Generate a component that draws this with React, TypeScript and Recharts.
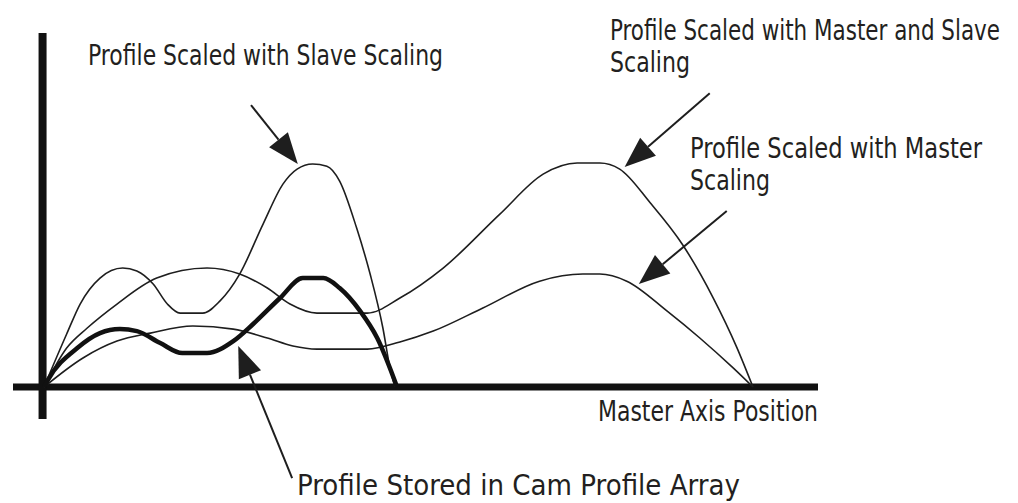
import { LineChart, Line, XAxis, YAxis, ReferenceLine } from "recharts";

// master axis position (x) and slave position (y)
const camX = [0, 0.06, 0.47, 0.79, 1.07, 1.31, 1.64, 1.95, 2.3, 2.67, 2.95, 3.33, 3.65, 3.94, 4.17, 4.46, 4.7, 4.98];
const camY = [0, 0.35, 1.76, 2.43, 2.61, 2.52, 1.98, 1.53, 1.53, 2.07, 2.84, 4.01, 4.91, 4.91, 4.46, 3.42, 2.21, 0];

const slaveX = [0, 0.32, 0.51, 0.79, 1.11, 1.31, 1.54, 1.74, 1.92, 2.24, 2.48, 2.76, 3.09, 3.37, 3.57, 3.79, 3.99, 4.17, 4.41, 4.6, 4.78, 4.88, 4.95];
const slaveY = [0, 2.39, 3.74, 4.91, 5.36, 5.23, 4.64, 3.74, 3.33, 3.33, 3.87, 5.09, 7.34, 9.14, 9.82, 10.05, 9.95, 9.28, 7.16, 5.09, 2.66, 0.86, 0];

const masterX = [0, 0.55, 1.03, 1.5, 2.1, 2.67, 3.15, 3.51, 3.85, 4.56, 5.02, 5.49, 6.19, 6.99, 7.6, 7.84, 8.22, 8.79, 9.25, 9.72, 10];
const masterY = [0, 1.31, 2.07, 2.43, 2.75, 2.61, 2.21, 1.85, 1.71, 1.71, 2.03, 2.52, 3.56, 4.77, 5.09, 5.09, 4.77, 3.42, 2.21, 0.86, 0];

const bothX = [0, 0.32, 0.61, 1.03, 1.59, 2.3, 2.76, 3.15, 3.47, 3.85, 4.56, 5.02, 5.63, 6.43, 7.04, 7.52, 7.84, 8.12, 8.55, 9.01, 9.44, 9.77, 10];
const bothY = [0, 1.76, 2.66, 3.74, 4.91, 5.36, 5.09, 4.46, 3.74, 3.33, 3.33, 4.01, 5.36, 7.79, 9.59, 10.09, 10.09, 9.82, 8.3, 6.4, 4.01, 1.8, 0];

// annotation arrows: [from, to] in chart units
const arrows = [
  [{ x: 2.92, y: 12.7 }, { x: 3.58, y: 10.05 }],
  [{ x: 9.39, y: 13.24 }, { x: 8.19, y: 9.91 }],
  [{ x: 9.63, y: 7.93 }, { x: 8.39, y: 4.64 }],
  [{ x: 3.5, y: -4.1 }, { x: 2.74, y: 1.85 }],
];

const labels = [
  { text: "Profile Scaled with Slave Scaling", x: 88, y: 65, w: 355 },
  { text: "Profile Scaled with Master and Slave", x: 610, y: 40, w: 390 },
  { text: "Scaling", x: 610, y: 72, w: 80 },
  { text: "Profile Scaled with Master", x: 690, y: 158, w: 292 },
  { text: "Scaling", x: 690, y: 190, w: 80 },
  { text: "Master Axis Position", x: 598, y: 421, w: 220 },
  { text: "Profile Stored in Cam Profile Array", x: 297, y: 495, w: 443 },
];

const zip = (xs: number[], ys: number[]) => xs.map((x, i) => ({ x, y: ys[i] }));

const INK = "#1e1e1e";

function Arrow(props: any) {
  const { x1, y1, x2, y2 } = props;
  const ang = Math.atan2(y2 - y1, x2 - x1);
  const len = 31;
  const half = 12;
  const bx = x2 - len * Math.cos(ang);
  const by = y2 - len * Math.sin(ang);
  const px = -Math.sin(ang) * half;
  const py = Math.cos(ang) * half;
  return (
    <g>
      <line x1={x1} y1={y1} x2={bx} y2={by} stroke={INK} strokeWidth={2} />
      <polygon points={`${x2},${y2} ${bx + px},${by + py} ${bx - px},${by - py}`} fill={INK} />
    </g>
  );
}

function Labels() {
  return (
    <g>
      {labels.map((l, i) => (
        <text
          key={i}
          x={l.x}
          y={l.y}
          textLength={l.w}
          lengthAdjust="spacingAndGlyphs"
          fontFamily="'DejaVu Sans', sans-serif"
          fontStretch="condensed"
          fontSize={29}
          fill="#231f20"
        >
          {l.text}
        </text>
      ))}
    </g>
  );
}

export default function App() {
  return (
    <div style={{ position: "absolute", left: 0, top: 0, width: 1018, height: 503, background: "#fff" }}>
      <LineChart width={1018} height={503} margin={{ top: 33, right: 200, bottom: 84, left: 13 }}>
        <XAxis type="number" dataKey="x" domain={[-0.437, 10.917]} hide allowDataOverflow />
        <YAxis type="number" dataKey="y" domain={[-1.44, 15.95]} hide allowDataOverflow />
        <ReferenceLine y={0} stroke="#111" strokeWidth={7} />
        <ReferenceLine x={-0.02} stroke="#111" strokeWidth={8} />
        <Line data={zip(masterX, masterY)} dataKey="y" type="monotone" stroke={INK} strokeWidth={1.6} dot={false} isAnimationActive={false} />
        <Line data={zip(bothX, bothY)} dataKey="y" type="monotone" stroke={INK} strokeWidth={1.6} dot={false} isAnimationActive={false} />
        <Line data={zip(slaveX, slaveY)} dataKey="y" type="monotone" stroke={INK} strokeWidth={1.6} dot={false} isAnimationActive={false} />
        <Line data={zip(camX, camY)} dataKey="y" type="monotone" stroke="#111" strokeWidth={4.5} dot={false} isAnimationActive={false} />
        {arrows.map((a, i) => (
          <ReferenceLine key={i} segment={a} ifOverflow="visible" shape={Arrow} />
        ))}
        <Labels />
      </LineChart>
    </div>
  );
}
